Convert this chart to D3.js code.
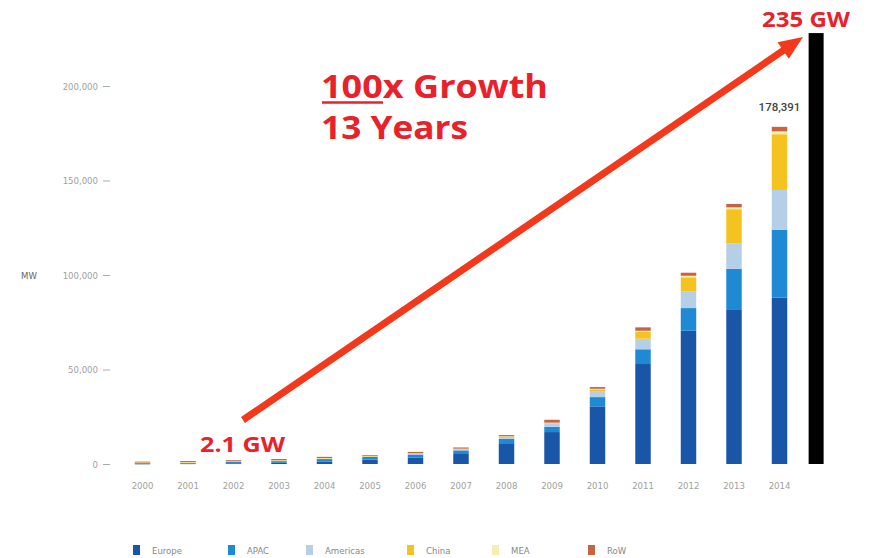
<!DOCTYPE html>
<html><head><meta charset="utf-8">
<script src="https://cdn.jsdelivr.net/npm/d3@7"></script>
<style>body{margin:0;background:#fff}svg{display:block}</style>
</head><body>
<svg id="c" width="879" height="558"></svg>
<script>
const years = ["2000","2001","2002","2003","2004","2005","2006","2007","2008","2009","2010","2011","2012","2013","2014"];
const regions = ["Europe","APAC","Americas","China","MEA","RoW"];
const colors = ["#1a56a8","#1e8ad6","#b5cfe9","#f5c320","#f6eeb0","#c9623f"];
const europe   = [150, 260, 400, 600, 1300, 2300, 3300, 5300, 11000, 16900, 30500, 52900, 70500, 81500, 88000];
const apac     = [450, 500, 650, 900, 1300, 1400, 1700, 1900, 2300, 2800, 4900, 7800, 12000, 21800, 36000];
const americas = [250, 300, 350, 450, 500, 500, 600, 800, 1200, 1700, 3200, 5600, 8700, 13500, 21000];
const china    = [20, 30, 40, 50, 60, 70, 80, 100, 140, 400, 900, 3700, 7600, 18000, 29500];
const mea      = [10, 10, 10, 20, 20, 30, 30, 50, 60, 100, 300, 500, 800, 1000, 1500];
const row      = [370, 500, 550, 600, 600, 400, 700, 600, 600, 1500, 900, 1800, 1600, 1800, 2391];
const yTicks = [0, 50000, 100000, 150000, 200000];
const totalLabel = "178,391";
const projValue = 228000;
const projLabel = "235 GW";
const startLabel = "2.1 GW";

const series = [europe, apac, americas, china, mea, row];
const table = years.map((yr, i) => {
  const o = {year: yr};
  regions.forEach((r, k) => o[r] = series[k][i]);
  return o;
});

const svg = d3.select("#c");
const x = d3.scaleBand().domain(years).range([119.75, 802.25]).paddingInner(0.66).paddingOuter(0.33);
const y = d3.scaleLinear().domain([0, 200000]).range([464, 86]);
const color = d3.scaleOrdinal().domain(regions).range(colors);
const smallFont = "DejaVu Sans Condensed, DejaVu Sans";

// y axis
const yAxis = svg.append("g").attr("transform", "translate(110,0)")
  .call(d3.axisLeft(y).tickValues(yTicks).tickSize(7).tickPadding(5).tickFormat(d3.format(",")));
yAxis.select(".domain").remove();
yAxis.selectAll("line").attr("stroke", "#aaa");
yAxis.selectAll("text").attr("fill", "#a0a0a0").style("font-family", smallFont).style("font-size", "9.5px");

svg.append("text").attr("x", 29).attr("y", 279).attr("text-anchor", "middle")
  .attr("fill", "#666").style("font-family", smallFont).style("font-size", "9.5px").text("MW");

// x axis labels
const xAxis = svg.append("g").attr("transform", "translate(0,474)")
  .call(d3.axisBottom(x).tickSize(0).tickPadding(8));
xAxis.select(".domain").remove();
xAxis.selectAll("text").attr("fill", "#a0a0a0").style("font-family", smallFont).style("font-size", "9.5px");

// stacked bars
const stack = d3.stack().keys(regions)(table);
svg.append("g").selectAll("g").data(stack).join("g")
  .attr("fill", d => color(d.key))
  .selectAll("rect").data(d => d).join("rect")
  .attr("x", d => x(d.data.year))
  .attr("width", x.bandwidth())
  .attr("y", d => y(d[1]))
  .attr("height", d => Math.max(y(d[0]) - y(d[1]), 0.6));

// total label
const last = years[years.length - 1];
const lastTotal = d3.sum(series, s => s[s.length - 1]);
svg.append("text").attr("x", x(last) + x.bandwidth() / 2).attr("y", y(lastTotal) - 16)
  .attr("text-anchor", "middle").attr("fill", "#444")
  .style("font-family", "Roboto, Liberation Sans, sans-serif").style("font-size", "11.5px").style("font-weight", "500")
  .text(totalLabel);

// projected black bar
const bx = x(last) + x.step() * 0.81;
svg.append("rect").attr("x", bx).attr("width", 15).attr("y", y(projValue)).attr("height", y(0) - y(projValue)).attr("fill", "#000");

// arrow
const red = "#f2391c";
const x0 = 243, y0 = 420, x1 = 803, y1 = 37;
const dx = x1 - x0, dy = y1 - y0, L = Math.hypot(dx, dy), ux = dx / L, uy = dy / L;
const hl = 24, hw = 10;
const bxp = x1 - ux * hl, byp = y1 - uy * hl;
svg.append("line").attr("x1", x0).attr("y1", y0).attr("x2", bxp + ux * 2).attr("y2", byp + uy * 2)
  .attr("stroke", red).attr("stroke-width", 7);
svg.append("path").attr("d", `M${x1},${y1}L${bxp - uy * hw},${byp + ux * hw}L${bxp + uy * hw},${byp - ux * hw}Z`).attr("fill", red);

// annotations
const tred = "#e8222a";
const fam = "Open Sans, sans-serif";
function label(tx, ty, size, len, str) {
  svg.append("text").attr("x", tx).attr("y", ty).attr("fill", tred)
    .attr("textLength", len).attr("lengthAdjust", "spacingAndGlyphs")
    .style("font-family", fam).style("font-weight", "bold").style("font-size", size + "px").text(str);
}
label(200, 452, 22, 85, startLabel);
label(762, 27, 21, 88, projLabel);
label(321, 98, 32, 227, "100x Growth");
label(321, 139, 32, 147, "13 Years");
svg.append("line").attr("x1", 322).attr("x2", 383).attr("y1", 102.5).attr("y2", 102.5).attr("stroke", tred).attr("stroke-width", 2.5);

// legend
const legX = [133, 228, 306, 407, 492, 588];
const leg = svg.append("g").selectAll("g").data(regions).join("g")
  .attr("transform", (d, i) => `translate(${legX[i]},545)`);
leg.append("rect").attr("width", 7).attr("height", 10).attr("fill", d => color(d));
leg.append("text").attr("x", 19).attr("y", 9).attr("fill", "#888")
  .style("font-family", smallFont).style("font-size", "9.5px").text(d => d);
</script>
</body></html>
